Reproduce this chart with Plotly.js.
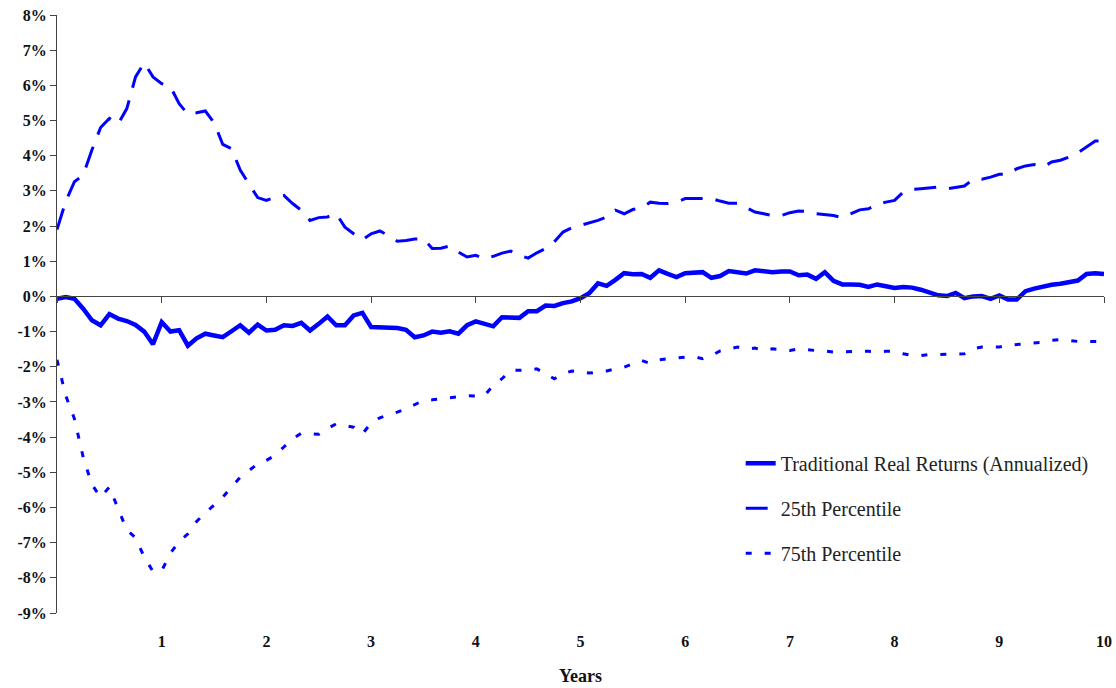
<!DOCTYPE html>
<html>
<head>
<meta charset="utf-8">
<script src="https://cdn.plot.ly/plotly-3.0.1.min.js"></script>
<style>
  html, body { margin: 0; padding: 0; background: #fff; }
  #chart { width: 1116px; height: 688px; }
</style>
</head>
<body>
<div id="chart"></div>
<script>
// Monthly annualized real returns (%), month 0 through month 120
const traditional = [
  -0.07, -0.02, -0.07, -0.35, -0.68, -0.82, -0.50, -0.63, -0.70, -0.81, -1.00, -1.36,
  -0.73, -1.00, -0.96, -1.40, -1.19, -1.06, -1.11, -1.16, -0.99, -0.82, -1.03, -0.80,
  -0.97, -0.95, -0.82, -0.84, -0.75, -0.97, -0.78, -0.57, -0.82, -0.82, -0.54, -0.47,
  -0.87, -0.87, -0.87, -0.90, -0.95, -1.16, -1.11, -1.00, -1.03, -0.99, -1.06, -0.82,
  -0.71, -0.78, -0.85, -0.59, -0.59, -0.61, -0.42, -0.42, -0.26, -0.27, -0.19, -0.14,
  -0.05, 0.09, 0.37, 0.30, 0.47, 0.66, 0.63, 0.64, 0.53, 0.74, 0.64, 0.55,
  0.66, 0.69, 0.69, 0.53, 0.58, 0.72, 0.67, 0.65, 0.74, 0.72, 0.69, 0.71,
  0.71, 0.60, 0.62, 0.50, 0.69, 0.44, 0.34, 0.34, 0.33, 0.27, 0.34, 0.29,
  0.24, 0.27, 0.25, 0.19, 0.12, 0.03, 0.01, 0.10, -0.05, 0.00, 0.01, -0.07,
  0.03, -0.09, -0.09, 0.15, 0.22, 0.28, 0.33, 0.36, 0.41, 0.45, 0.64, 0.66,
  0.64
];

const percentile25 = [
  1.90, 2.70, 3.26, 3.45, 4.16, 4.80, 5.06, 4.90, 5.34, 6.24, 6.64, 6.24,
  6.05, 5.96, 5.48, 5.18, 5.22, 5.27, 4.94, 4.32, 4.20, 3.59, 3.20, 2.81,
  2.73, 2.82, 2.87, 2.64, 2.45, 2.16, 2.24, 2.26, 2.35, 1.97, 1.78, 1.61,
  1.78, 1.86, 1.73, 1.57, 1.59, 1.63, 1.64, 1.36, 1.37, 1.43, 1.26, 1.12,
  1.17, 1.07, 1.14, 1.23, 1.29, 1.17, 1.09, 1.24, 1.36, 1.55, 1.83, 1.95,
  2.02, 2.09, 2.16, 2.26, 2.45, 2.35, 2.47, 2.52, 2.68, 2.65, 2.64, 2.68,
  2.78, 2.78, 2.78, 2.78, 2.71, 2.65, 2.65, 2.52, 2.40, 2.35, 2.30, 2.30,
  2.38, 2.43, 2.42, 2.35, 2.32, 2.30, 2.24, 2.35, 2.46, 2.49, 2.62, 2.68,
  2.73, 2.97, 3.04, 3.06, 3.09, 3.11, 3.06, 3.11, 3.14, 3.33, 3.33, 3.39,
  3.47, 3.47, 3.63, 3.71, 3.75, 3.68, 3.82, 3.87, 3.96, 4.08, 4.25, 4.42,
  4.42
];

const percentile75 = [
  -1.80, -2.82, -3.48, -4.57, -5.35, -5.71, -5.42, -6.05, -6.64, -6.86, -7.41, -7.82,
  -7.80, -7.30, -6.97, -6.75, -6.40, -6.15, -5.92, -5.71, -5.42, -5.14, -4.95, -4.76,
  -4.66, -4.52, -4.28, -4.05, -3.89, -3.91, -3.92, -3.76, -3.62, -3.67, -3.72, -3.91,
  -3.60, -3.45, -3.38, -3.29, -3.19, -3.07, -2.96, -2.94, -2.91, -2.88, -2.84, -2.82,
  -2.83, -2.82, -2.53, -2.34, -2.10, -2.09, -2.10, -2.06, -2.20, -2.34, -2.20, -2.12,
  -2.15, -2.18, -2.15, -2.12, -2.06, -2.01, -1.91, -1.82, -1.91, -1.80, -1.77, -1.75,
  -1.73, -1.71, -1.77, -1.68, -1.55, -1.49, -1.44, -1.50, -1.47, -1.54, -1.49, -1.52,
  -1.54, -1.49, -1.52, -1.54, -1.55, -1.58, -1.58, -1.56, -1.56, -1.56, -1.58, -1.56,
  -1.56, -1.63, -1.68, -1.68, -1.65, -1.65, -1.65, -1.63, -1.63, -1.49, -1.44, -1.44,
  -1.44, -1.39, -1.37, -1.35, -1.32, -1.30, -1.25, -1.23, -1.25, -1.28, -1.28, -1.28,
  -1.28
];

// Axis tick values and labels
const yearTicks = [1, 2, 3, 4, 5, 6, 7, 8, 9, 10];
const yearLabels = ['1', '2', '3', '4', '5', '6', '7', '8', '9', '10'];
const pctTicks = [-9, -8, -7, -6, -5, -4, -3, -2, -1, 0, 1, 2, 3, 4, 5, 6, 7, 8];
const pctLabels = pctTicks.map(v => (v < 0 ? '-' + Math.abs(v) : String(v)) + '%');

const seriesNames = [
  'Traditional Real Returns (Annualized)',
  '25th Percentile',
  '75th Percentile'
];

const years = traditional.map((_, i) => i / 12);

const BLUE = '#0000ff';
const SERIF = 'Liberation Serif, DejaVu Serif, serif';
const Y_MIN = -9, Y_MAX = 8;

const traces = [
  {
    x: years, y: traditional, name: seriesNames[0], legendgroup: 'a',
    type: 'scatter', mode: 'lines',
    line: { color: BLUE, width: 4.5 }
  },
  {
    x: years, y: percentile25, name: seriesNames[1], legendgroup: 'b',
    type: 'scatter', mode: 'lines', xaxis: 'x2',
    line: { color: BLUE, width: 3, dash: '22px,13px' }
  },
  {
    x: years, y: percentile75, name: seriesNames[2], legendgroup: 'c',
    type: 'scatter', mode: 'lines',
    line: { color: BLUE, width: 3, dash: '6px,13px' }
  }
];

const tickFont = { family: SERIF, size: 16, color: '#111', weight: 'bold' };

const layout = {
  width: 1116,
  height: 688,
  margin: { l: 57, r: 12, t: 15, b: 75 },
  paper_bgcolor: '#fff',
  plot_bgcolor: '#fff',
  font: { family: SERIF },
  showlegend: true,
  legend: {
    x: 0.653, y: 0.283, xanchor: 'left', yanchor: 'top',
    font: { family: SERIF, size: 20, color: '#222' },
    bgcolor: 'rgba(0,0,0,0)',
    traceorder: 'grouped',
    tracegroupgap: 16
  },
  // bottom axis: labels only
  xaxis: {
    range: [0, 10],
    tickvals: yearTicks, ticktext: yearLabels,
    ticks: 'outside', ticklen: 14, tickcolor: 'rgba(0,0,0,0)',
    showline: false, showgrid: false, zeroline: false,
    tickfont: tickFont,
    title: { text: 'Years', font: { family: SERIF, size: 18, color: '#111', weight: 'bold' }, standoff: 20 },
    fixedrange: true
  },
  // category axis drawn along the 0% line
  xaxis2: {
    range: [0, 10], overlaying: 'x', matches: 'x',
    anchor: 'free', position: (0 - Y_MIN) / (Y_MAX - Y_MIN), side: 'bottom',
    tickvals: [0].concat(yearTicks),
    showticklabels: false,
    ticks: 'outside', ticklen: 6, tickwidth: 1, tickcolor: '#444',
    showline: true, linecolor: '#444', linewidth: 1,
    showgrid: false, zeroline: false,
    fixedrange: true
  },
  yaxis: {
    range: [Y_MIN, Y_MAX],
    tickvals: pctTicks, ticktext: pctLabels,
    ticks: 'outside', ticklen: 6, tickwidth: 1, tickcolor: '#444',
    showline: true, linecolor: '#444', linewidth: 1,
    showgrid: false, zeroline: false,
    tickfont: tickFont,
    fixedrange: true
  }
};

Plotly.newPlot('chart', traces, layout, { displayModeBar: false, staticPlot: true });
</script>
</body>
</html>
